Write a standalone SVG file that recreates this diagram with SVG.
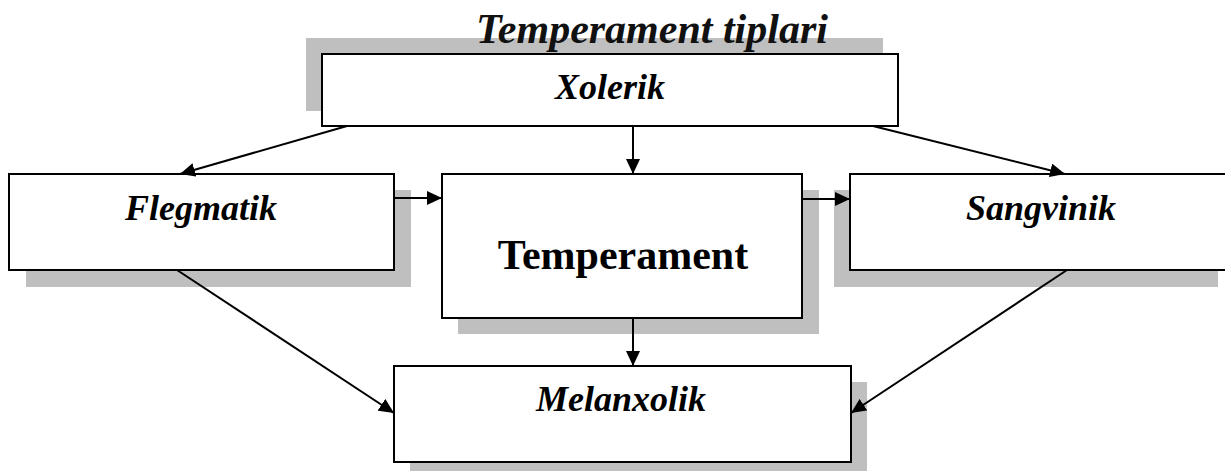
<svg xmlns="http://www.w3.org/2000/svg" width="1225" height="471" viewBox="0 0 1225 471">
  <style>
    .shadow { fill: #bfbfbf; stroke: none; }
    .box { fill: #ffffff; stroke: #000000; stroke-width: 2; }
    .lbl { font-family: "Liberation Serif", "Times New Roman", serif; font-weight: bold; font-style: italic; font-size: 36px; fill: #000000; text-anchor: middle; }
    .main { font-family: "Liberation Serif", "Times New Roman", serif; font-weight: bold; font-size: 42px; fill: #000000; text-anchor: middle; }
    .title { font-family: "Liberation Serif", "Times New Roman", serif; font-weight: bold; font-style: italic; font-size: 42px; fill: #111111; text-anchor: middle; }
    .conn { stroke: #000000; stroke-width: 2; fill: none; marker-end: url(#arrow); }
  </style>
  <defs>
    <marker id="arrow" markerUnits="userSpaceOnUse" markerWidth="16" markerHeight="14" refX="15" refY="7" orient="auto">
      <path d="M0,0 L15,7 L0,14 Z" fill="#000000"/>
    </marker>
  </defs>
  <rect width="1225" height="471" fill="#ffffff"/>

  <g id="xolerik">
    <rect class="shadow" x="306" y="38" width="577" height="73"/>
    <text class="title" x="652" y="43">Temperament tiplari</text>
    <rect class="box" x="322" y="54" width="576" height="72"/>
    <text class="lbl" x="610" y="99">Xolerik</text>
  </g>

  <g id="flegmatik">
    <rect class="shadow" x="26" y="190" width="385" height="97"/>
    <rect class="box" x="9" y="174" width="385" height="96"/>
    <text class="lbl" x="201" y="220">Flegmatik</text>
  </g>

  <g id="temperament">
    <rect class="shadow" x="458" y="190" width="361" height="144"/>
    <rect class="box" x="442" y="174" width="360" height="144"/>
    <text class="main" x="623" y="269">Temperament</text>
  </g>

  <g id="sangvinik">
    <rect class="shadow" x="834" y="190" width="384" height="97"/>
    <rect class="box" x="850" y="174" width="390" height="96"/>
    <text class="lbl" x="1041" y="220">Sangvinik</text>
  </g>

  <g id="melanxolik">
    <rect class="shadow" x="410" y="382" width="457" height="95"/>
    <rect class="box" x="394" y="366" width="457" height="96"/>
    <text class="lbl" x="621" y="411">Melanxolik</text>
  </g>

  <g id="connectors">
    <line class="conn" x1="347" y1="126" x2="180" y2="174"/>
    <line class="conn" x1="633" y1="126" x2="633" y2="174"/>
    <line class="conn" x1="873" y1="126" x2="1065" y2="174"/>
    <line class="conn" x1="394" y1="198" x2="442" y2="198"/>
    <line class="conn" x1="802" y1="199" x2="850" y2="199"/>
    <line class="conn" x1="633" y1="318" x2="633" y2="366"/>
    <line class="conn" x1="177" y1="270" x2="394" y2="413"/>
    <line class="conn" x1="1067" y1="270" x2="851" y2="413"/>
  </g>
</svg>
